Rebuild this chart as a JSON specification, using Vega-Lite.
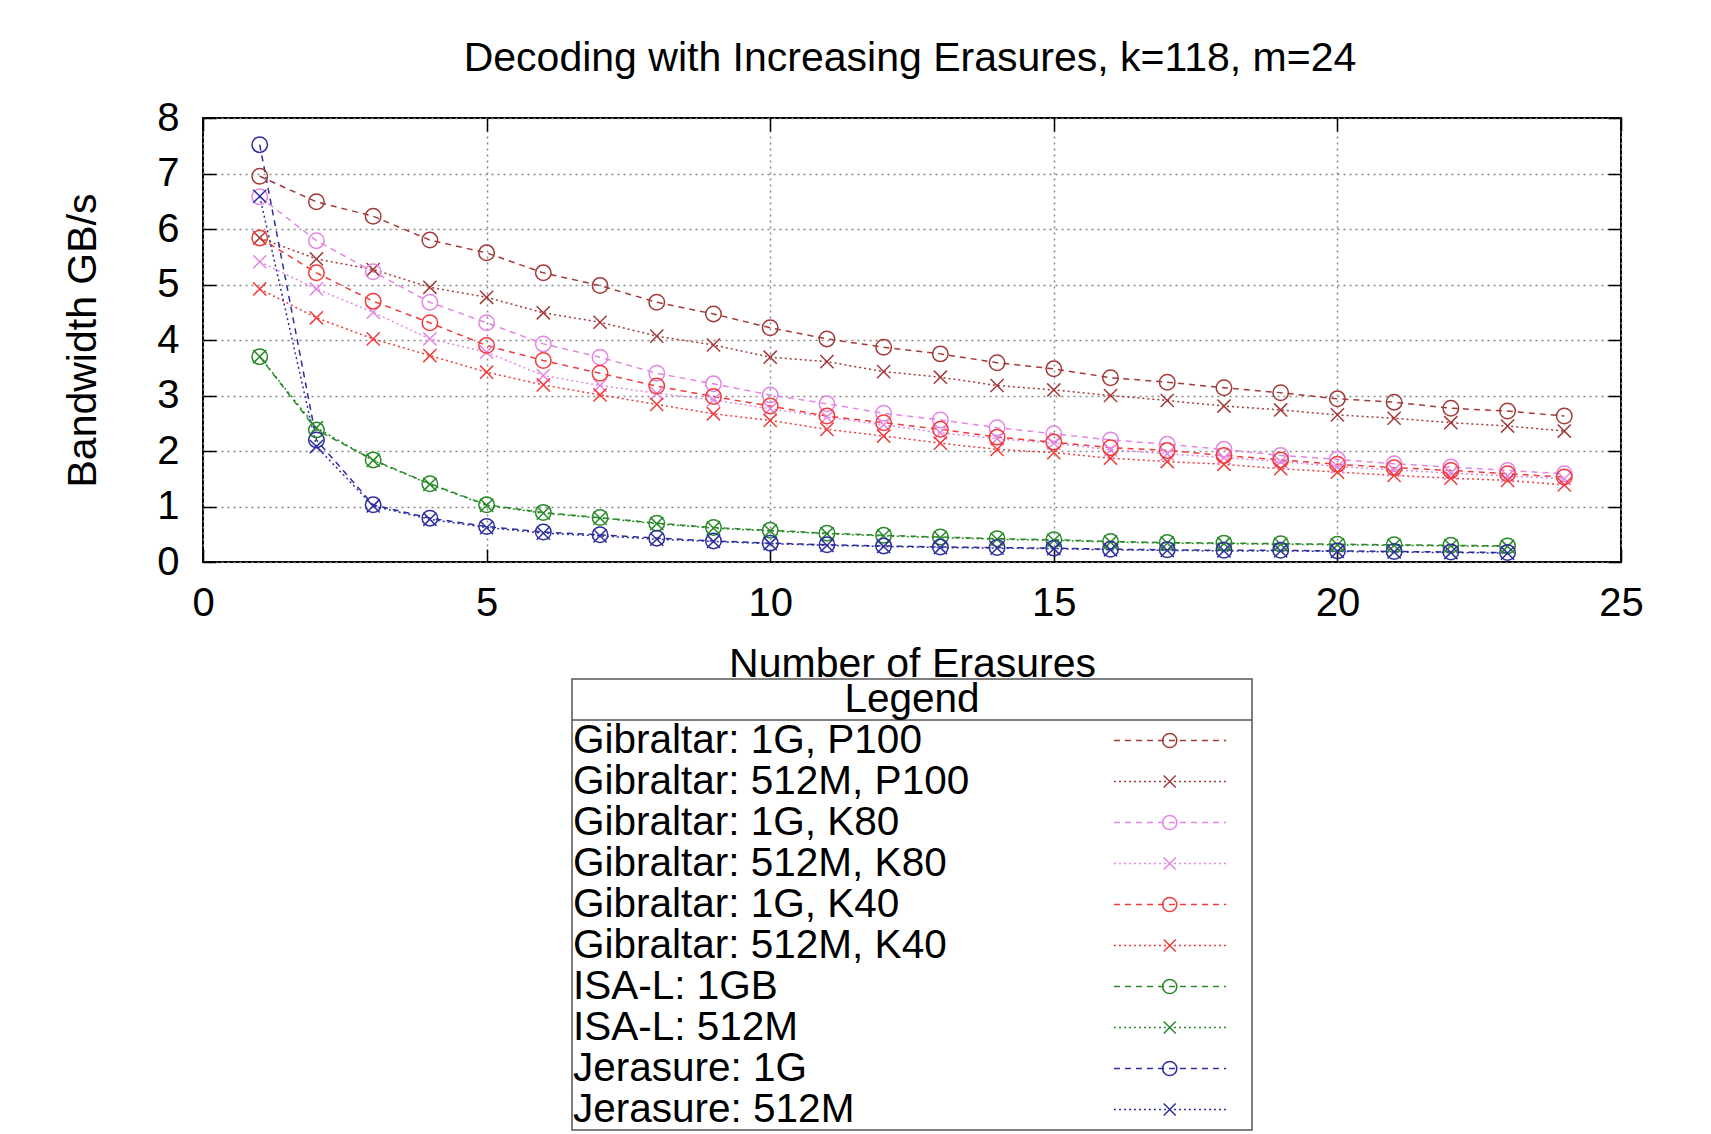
{
  "$schema": "https://vega.github.io/schema/vega-lite/v6.json",
  "background": "white",
  "padding": {"left": 61, "top": 38, "right": 10, "bottom": 0},
  "config": {"font": "Liberation Sans"},
  "title": {"text": "Decoding with Increasing Erasures, k=118, m=24", "fontSize": 41, "fontWeight": "normal", "font": "Liberation Sans", "color": "black", "anchor": "middle", "offset": 17, "dx": 57},
  "bounds": "flush",
  "spacing": 117,
  "center": true,
  "datasets": {
    "legend": [
      {"s": "Gibraltar: 1G, P100"}, {"s": "Gibraltar: 512M, P100"}, {"s": "Gibraltar: 1G, K80"}, {"s": "Gibraltar: 512M, K80"}, {"s": "Gibraltar: 1G, K40"},
      {"s": "Gibraltar: 512M, K40"}, {"s": "ISA-L: 1GB"}, {"s": "ISA-L: 512M"}, {"s": "Jerasure: 1G"}, {"s": "Jerasure: 512M"}
    ],
    "main": [
      {"s":"Gibraltar: 1G, P100","x":1,"y":6.95},{"s":"Gibraltar: 1G, P100","x":2,"y":6.49},{"s":"Gibraltar: 1G, P100","x":3,"y":6.23},{"s":"Gibraltar: 1G, P100","x":4,"y":5.80},{"s":"Gibraltar: 1G, P100","x":5,"y":5.57},{"s":"Gibraltar: 1G, P100","x":6,"y":5.21},{"s":"Gibraltar: 1G, P100","x":7,"y":4.98},{"s":"Gibraltar: 1G, P100","x":8,"y":4.68},{"s":"Gibraltar: 1G, P100","x":9,"y":4.47},{"s":"Gibraltar: 1G, P100","x":10,"y":4.22},{"s":"Gibraltar: 1G, P100","x":11,"y":4.02},{"s":"Gibraltar: 1G, P100","x":12,"y":3.87},{"s":"Gibraltar: 1G, P100","x":13,"y":3.75},{"s":"Gibraltar: 1G, P100","x":14,"y":3.59},{"s":"Gibraltar: 1G, P100","x":15,"y":3.48},{"s":"Gibraltar: 1G, P100","x":16,"y":3.32},{"s":"Gibraltar: 1G, P100","x":17,"y":3.24},{"s":"Gibraltar: 1G, P100","x":18,"y":3.14},{"s":"Gibraltar: 1G, P100","x":19,"y":3.05},{"s":"Gibraltar: 1G, P100","x":20,"y":2.94},{"s":"Gibraltar: 1G, P100","x":21,"y":2.88},{"s":"Gibraltar: 1G, P100","x":22,"y":2.77},{"s":"Gibraltar: 1G, P100","x":23,"y":2.72},{"s":"Gibraltar: 1G, P100","x":24,"y":2.63},
      {"s":"Gibraltar: 512M, P100","x":1,"y":5.84},{"s":"Gibraltar: 512M, P100","x":2,"y":5.46},{"s":"Gibraltar: 512M, P100","x":3,"y":5.27},{"s":"Gibraltar: 512M, P100","x":4,"y":4.95},{"s":"Gibraltar: 512M, P100","x":5,"y":4.77},{"s":"Gibraltar: 512M, P100","x":6,"y":4.49},{"s":"Gibraltar: 512M, P100","x":7,"y":4.32},{"s":"Gibraltar: 512M, P100","x":8,"y":4.07},{"s":"Gibraltar: 512M, P100","x":9,"y":3.91},{"s":"Gibraltar: 512M, P100","x":10,"y":3.69},{"s":"Gibraltar: 512M, P100","x":11,"y":3.61},{"s":"Gibraltar: 512M, P100","x":12,"y":3.43},{"s":"Gibraltar: 512M, P100","x":13,"y":3.33},{"s":"Gibraltar: 512M, P100","x":14,"y":3.18},{"s":"Gibraltar: 512M, P100","x":15,"y":3.10},{"s":"Gibraltar: 512M, P100","x":16,"y":3.00},{"s":"Gibraltar: 512M, P100","x":17,"y":2.91},{"s":"Gibraltar: 512M, P100","x":18,"y":2.81},{"s":"Gibraltar: 512M, P100","x":19,"y":2.74},{"s":"Gibraltar: 512M, P100","x":20,"y":2.65},{"s":"Gibraltar: 512M, P100","x":21,"y":2.59},{"s":"Gibraltar: 512M, P100","x":22,"y":2.51},{"s":"Gibraltar: 512M, P100","x":23,"y":2.45},{"s":"Gibraltar: 512M, P100","x":24,"y":2.36},
      {"s":"Gibraltar: 1G, K80","x":1,"y":6.58},{"s":"Gibraltar: 1G, K80","x":2,"y":5.79},{"s":"Gibraltar: 1G, K80","x":3,"y":5.23},{"s":"Gibraltar: 1G, K80","x":4,"y":4.68},{"s":"Gibraltar: 1G, K80","x":5,"y":4.31},{"s":"Gibraltar: 1G, K80","x":6,"y":3.93},{"s":"Gibraltar: 1G, K80","x":7,"y":3.69},{"s":"Gibraltar: 1G, K80","x":8,"y":3.40},{"s":"Gibraltar: 1G, K80","x":9,"y":3.21},{"s":"Gibraltar: 1G, K80","x":10,"y":3.01},{"s":"Gibraltar: 1G, K80","x":11,"y":2.85},{"s":"Gibraltar: 1G, K80","x":12,"y":2.68},{"s":"Gibraltar: 1G, K80","x":13,"y":2.56},{"s":"Gibraltar: 1G, K80","x":14,"y":2.42},{"s":"Gibraltar: 1G, K80","x":15,"y":2.31},{"s":"Gibraltar: 1G, K80","x":16,"y":2.20},{"s":"Gibraltar: 1G, K80","x":17,"y":2.12},{"s":"Gibraltar: 1G, K80","x":18,"y":2.03},{"s":"Gibraltar: 1G, K80","x":19,"y":1.92},{"s":"Gibraltar: 1G, K80","x":20,"y":1.85},{"s":"Gibraltar: 1G, K80","x":21,"y":1.77},{"s":"Gibraltar: 1G, K80","x":22,"y":1.71},{"s":"Gibraltar: 1G, K80","x":23,"y":1.65},{"s":"Gibraltar: 1G, K80","x":24,"y":1.59},
      {"s":"Gibraltar: 512M, K80","x":1,"y":5.41},{"s":"Gibraltar: 512M, K80","x":2,"y":4.92},{"s":"Gibraltar: 512M, K80","x":3,"y":4.50},{"s":"Gibraltar: 512M, K80","x":4,"y":4.02},{"s":"Gibraltar: 512M, K80","x":5,"y":3.78},{"s":"Gibraltar: 512M, K80","x":6,"y":3.36},{"s":"Gibraltar: 512M, K80","x":7,"y":3.18},{"s":"Gibraltar: 512M, K80","x":8,"y":3.04},{"s":"Gibraltar: 512M, K80","x":9,"y":2.92},{"s":"Gibraltar: 512M, K80","x":10,"y":2.76},{"s":"Gibraltar: 512M, K80","x":11,"y":2.61},{"s":"Gibraltar: 512M, K80","x":12,"y":2.47},{"s":"Gibraltar: 512M, K80","x":13,"y":2.33},{"s":"Gibraltar: 512M, K80","x":14,"y":2.22},{"s":"Gibraltar: 512M, K80","x":15,"y":2.14},{"s":"Gibraltar: 512M, K80","x":16,"y":2.02},{"s":"Gibraltar: 512M, K80","x":17,"y":1.95},{"s":"Gibraltar: 512M, K80","x":18,"y":1.88},{"s":"Gibraltar: 512M, K80","x":19,"y":1.81},{"s":"Gibraltar: 512M, K80","x":20,"y":1.72},{"s":"Gibraltar: 512M, K80","x":21,"y":1.66},{"s":"Gibraltar: 512M, K80","x":22,"y":1.60},{"s":"Gibraltar: 512M, K80","x":23,"y":1.55},{"s":"Gibraltar: 512M, K80","x":24,"y":1.50},
      {"s":"Gibraltar: 1G, K40","x":1,"y":5.84},{"s":"Gibraltar: 1G, K40","x":2,"y":5.21},{"s":"Gibraltar: 1G, K40","x":3,"y":4.70},{"s":"Gibraltar: 1G, K40","x":4,"y":4.31},{"s":"Gibraltar: 1G, K40","x":5,"y":3.90},{"s":"Gibraltar: 1G, K40","x":6,"y":3.63},{"s":"Gibraltar: 1G, K40","x":7,"y":3.40},{"s":"Gibraltar: 1G, K40","x":8,"y":3.17},{"s":"Gibraltar: 1G, K40","x":9,"y":2.98},{"s":"Gibraltar: 1G, K40","x":10,"y":2.81},{"s":"Gibraltar: 1G, K40","x":11,"y":2.63},{"s":"Gibraltar: 1G, K40","x":12,"y":2.51},{"s":"Gibraltar: 1G, K40","x":13,"y":2.39},{"s":"Gibraltar: 1G, K40","x":14,"y":2.25},{"s":"Gibraltar: 1G, K40","x":15,"y":2.16},{"s":"Gibraltar: 1G, K40","x":16,"y":2.06},{"s":"Gibraltar: 1G, K40","x":17,"y":2.01},{"s":"Gibraltar: 1G, K40","x":18,"y":1.92},{"s":"Gibraltar: 1G, K40","x":19,"y":1.84},{"s":"Gibraltar: 1G, K40","x":20,"y":1.76},{"s":"Gibraltar: 1G, K40","x":21,"y":1.70},{"s":"Gibraltar: 1G, K40","x":22,"y":1.65},{"s":"Gibraltar: 1G, K40","x":23,"y":1.59},{"s":"Gibraltar: 1G, K40","x":24,"y":1.53},
      {"s":"Gibraltar: 512M, K40","x":1,"y":4.92},{"s":"Gibraltar: 512M, K40","x":2,"y":4.40},{"s":"Gibraltar: 512M, K40","x":3,"y":4.02},{"s":"Gibraltar: 512M, K40","x":4,"y":3.72},{"s":"Gibraltar: 512M, K40","x":5,"y":3.42},{"s":"Gibraltar: 512M, K40","x":6,"y":3.19},{"s":"Gibraltar: 512M, K40","x":7,"y":3.01},{"s":"Gibraltar: 512M, K40","x":8,"y":2.84},{"s":"Gibraltar: 512M, K40","x":9,"y":2.67},{"s":"Gibraltar: 512M, K40","x":10,"y":2.55},{"s":"Gibraltar: 512M, K40","x":11,"y":2.39},{"s":"Gibraltar: 512M, K40","x":12,"y":2.27},{"s":"Gibraltar: 512M, K40","x":13,"y":2.14},{"s":"Gibraltar: 512M, K40","x":14,"y":2.03},{"s":"Gibraltar: 512M, K40","x":15,"y":1.97},{"s":"Gibraltar: 512M, K40","x":16,"y":1.87},{"s":"Gibraltar: 512M, K40","x":17,"y":1.81},{"s":"Gibraltar: 512M, K40","x":18,"y":1.76},{"s":"Gibraltar: 512M, K40","x":19,"y":1.68},{"s":"Gibraltar: 512M, K40","x":20,"y":1.62},{"s":"Gibraltar: 512M, K40","x":21,"y":1.56},{"s":"Gibraltar: 512M, K40","x":22,"y":1.51},{"s":"Gibraltar: 512M, K40","x":23,"y":1.47},{"s":"Gibraltar: 512M, K40","x":24,"y":1.39},
      {"s":"ISA-L: 1GB","x":1,"y":3.70},{"s":"ISA-L: 1GB","x":2,"y":2.38},{"s":"ISA-L: 1GB","x":3,"y":1.84},{"s":"ISA-L: 1GB","x":4,"y":1.41},{"s":"ISA-L: 1GB","x":5,"y":1.03},{"s":"ISA-L: 1GB","x":6,"y":0.89},{"s":"ISA-L: 1GB","x":7,"y":0.80},{"s":"ISA-L: 1GB","x":8,"y":0.70},{"s":"ISA-L: 1GB","x":9,"y":0.62},{"s":"ISA-L: 1GB","x":10,"y":0.57},{"s":"ISA-L: 1GB","x":11,"y":0.52},{"s":"ISA-L: 1GB","x":12,"y":0.48},{"s":"ISA-L: 1GB","x":13,"y":0.45},{"s":"ISA-L: 1GB","x":14,"y":0.42},{"s":"ISA-L: 1GB","x":15,"y":0.40},{"s":"ISA-L: 1GB","x":16,"y":0.37},{"s":"ISA-L: 1GB","x":17,"y":0.35},{"s":"ISA-L: 1GB","x":18,"y":0.34},{"s":"ISA-L: 1GB","x":19,"y":0.33},{"s":"ISA-L: 1GB","x":20,"y":0.32},{"s":"ISA-L: 1GB","x":21,"y":0.31},{"s":"ISA-L: 1GB","x":22,"y":0.30},{"s":"ISA-L: 1GB","x":23,"y":0.29},
      {"s":"ISA-L: 512M","x":1,"y":3.70},{"s":"ISA-L: 512M","x":2,"y":2.42},{"s":"ISA-L: 512M","x":3,"y":1.83},{"s":"ISA-L: 512M","x":4,"y":1.40},{"s":"ISA-L: 512M","x":5,"y":1.02},{"s":"ISA-L: 512M","x":6,"y":0.88},{"s":"ISA-L: 512M","x":7,"y":0.79},{"s":"ISA-L: 512M","x":8,"y":0.69},{"s":"ISA-L: 512M","x":9,"y":0.61},{"s":"ISA-L: 512M","x":10,"y":0.56},{"s":"ISA-L: 512M","x":11,"y":0.51},{"s":"ISA-L: 512M","x":12,"y":0.47},{"s":"ISA-L: 512M","x":13,"y":0.44},{"s":"ISA-L: 512M","x":14,"y":0.41},{"s":"ISA-L: 512M","x":15,"y":0.39},{"s":"ISA-L: 512M","x":16,"y":0.36},{"s":"ISA-L: 512M","x":17,"y":0.34},{"s":"ISA-L: 512M","x":18,"y":0.33},{"s":"ISA-L: 512M","x":19,"y":0.32},{"s":"ISA-L: 512M","x":20,"y":0.31},{"s":"ISA-L: 512M","x":21,"y":0.30},{"s":"ISA-L: 512M","x":22,"y":0.29},{"s":"ISA-L: 512M","x":23,"y":0.28},
      {"s":"Jerasure: 1G","x":1,"y":7.52},{"s":"Jerasure: 1G","x":2,"y":2.20},{"s":"Jerasure: 1G","x":3,"y":1.03},{"s":"Jerasure: 1G","x":4,"y":0.79},{"s":"Jerasure: 1G","x":5,"y":0.64},{"s":"Jerasure: 1G","x":6,"y":0.54},{"s":"Jerasure: 1G","x":7,"y":0.49},{"s":"Jerasure: 1G","x":8,"y":0.43},{"s":"Jerasure: 1G","x":9,"y":0.38},{"s":"Jerasure: 1G","x":10,"y":0.34},{"s":"Jerasure: 1G","x":11,"y":0.31},{"s":"Jerasure: 1G","x":12,"y":0.29},{"s":"Jerasure: 1G","x":13,"y":0.27},{"s":"Jerasure: 1G","x":14,"y":0.26},{"s":"Jerasure: 1G","x":15,"y":0.25},{"s":"Jerasure: 1G","x":16,"y":0.23},{"s":"Jerasure: 1G","x":17,"y":0.22},{"s":"Jerasure: 1G","x":18,"y":0.21},{"s":"Jerasure: 1G","x":19,"y":0.21},{"s":"Jerasure: 1G","x":20,"y":0.20},{"s":"Jerasure: 1G","x":21,"y":0.19},{"s":"Jerasure: 1G","x":22,"y":0.18},{"s":"Jerasure: 1G","x":23,"y":0.17},
      {"s":"Jerasure: 512M","x":1,"y":6.59},{"s":"Jerasure: 512M","x":2,"y":2.08},{"s":"Jerasure: 512M","x":3,"y":1.01},{"s":"Jerasure: 512M","x":4,"y":0.77},{"s":"Jerasure: 512M","x":5,"y":0.62},{"s":"Jerasure: 512M","x":6,"y":0.52},{"s":"Jerasure: 512M","x":7,"y":0.47},{"s":"Jerasure: 512M","x":8,"y":0.41},{"s":"Jerasure: 512M","x":9,"y":0.37},{"s":"Jerasure: 512M","x":10,"y":0.33},{"s":"Jerasure: 512M","x":11,"y":0.30},{"s":"Jerasure: 512M","x":12,"y":0.28},{"s":"Jerasure: 512M","x":13,"y":0.26},{"s":"Jerasure: 512M","x":14,"y":0.25},{"s":"Jerasure: 512M","x":15,"y":0.24},{"s":"Jerasure: 512M","x":16,"y":0.22},{"s":"Jerasure: 512M","x":17,"y":0.21},{"s":"Jerasure: 512M","x":18,"y":0.20},{"s":"Jerasure: 512M","x":19,"y":0.20},{"s":"Jerasure: 512M","x":20,"y":0.19},{"s":"Jerasure: 512M","x":21,"y":0.18},{"s":"Jerasure: 512M","x":22,"y":0.17},{"s":"Jerasure: 512M","x":23,"y":0.16}
    ]
  },
  "vconcat": [
    {
      "width": 1418,
      "height": 444,
      "data": {"name": "main"},
      "view": {"stroke": "black", "strokeWidth": 2},
      "layer": [
        {
          "mark": {"type": "line", "strokeWidth": 1.5},
          "encoding": {
            "x": {"field": "x", "type": "quantitative", "scale": {"domain": [0, 25], "nice": false, "zero": false},
              "axis": {"values": [0, 5, 10, 15, 20, 25], "grid": true, "gridDash": [2, 4], "gridColor": "#888888", "gridWidth": 1.5, "domain": false, "ticks": true, "tickSize": -13, "tickColor": "black", "tickWidth": 1.5, "labelFontSize": 40, "labelColor": "black", "labelPadding": 34, "labelFlush": false, "labelOverlap": false, "title": "Number of Erasures", "titleFontSize": 41, "titleFontWeight": "normal", "titleColor": "black", "titleY": 114, "titleBaseline": "alphabetic"}},
            "y": {"field": "y", "type": "quantitative", "scale": {"domain": [0, 8], "nice": false},
              "axis": {"values": [0, 1, 2, 3, 4, 5, 6, 7, 8], "grid": true, "gridDash": [2, 4], "gridColor": "#888888", "gridWidth": 1.5, "domain": false, "ticks": true, "tickSize": -13, "tickColor": "black", "tickWidth": 1.5, "labelFontSize": 40, "labelColor": "black", "labelPadding": 37, "labelFlush": false, "labelOverlap": false, "title": "Bandwidth GB/s", "titleFontSize": 41, "titleFontWeight": "normal", "titleColor": "black", "titlePadding": 52}},
            "color": {"field": "s", "type": "nominal", "legend": null,
              "scale": {"domain": ["Gibraltar: 1G, P100", "Gibraltar: 512M, P100", "Gibraltar: 1G, K80", "Gibraltar: 512M, K80", "Gibraltar: 1G, K40", "Gibraltar: 512M, K40", "ISA-L: 1GB", "ISA-L: 512M", "Jerasure: 1G", "Jerasure: 512M"],
                "range": ["#a33a3a", "#a33a3a", "#e386e3", "#e386e3", "#f03c3c", "#f03c3c", "#2a8a2a", "#2a8a2a", "#2e2e9e", "#2e2e9e"]}},
            "strokeDash": {"field": "s", "type": "nominal", "legend": null,
              "scale": {"domain": ["Gibraltar: 1G, P100", "Gibraltar: 512M, P100", "Gibraltar: 1G, K80", "Gibraltar: 512M, K80", "Gibraltar: 1G, K40", "Gibraltar: 512M, K40", "ISA-L: 1GB", "ISA-L: 512M", "Jerasure: 1G", "Jerasure: 512M"],
                "range": [[6, 5], [2, 3], [6, 5], [2, 3], [6, 5], [2, 3], [6, 5], [2, 3], [6, 5], [2, 3]]}}
          }
        },
        {
          "mark": {"type": "point", "filled": false, "strokeWidth": 1.5, "size": 240, "opacity": 1},
          "encoding": {
            "x": {"field": "x", "type": "quantitative", "axis": null},
            "y": {"field": "y", "type": "quantitative", "axis": null},
            "color": {"field": "s", "type": "nominal", "legend": null},
            "shape": {"field": "s", "type": "nominal", "legend": null,
              "scale": {"domain": ["Gibraltar: 1G, P100", "Gibraltar: 512M, P100", "Gibraltar: 1G, K80", "Gibraltar: 512M, K80", "Gibraltar: 1G, K40", "Gibraltar: 512M, K40", "ISA-L: 1GB", "ISA-L: 512M", "Jerasure: 1G", "Jerasure: 512M"],
                "range": ["circle", "M-0.85,-0.85L0.85,0.85M-0.85,0.85L0.85,-0.85", "circle", "M-0.85,-0.85L0.85,0.85M-0.85,0.85L0.85,-0.85", "circle", "M-0.85,-0.85L0.85,0.85M-0.85,0.85L0.85,-0.85", "circle", "M-0.85,-0.85L0.85,0.85M-0.85,0.85L0.85,-0.85", "circle", "M-0.85,-0.85L0.85,0.85M-0.85,0.85L0.85,-0.85"]}}
          }
        },
        {
          "mark": {"type": "point", "opacity": 0},
          "encoding": {
            "x": {"field": "x", "type": "quantitative", "axis": {"orient": "top", "values": [0, 5, 10, 15, 20, 25], "labels": false, "domain": false, "grid": false, "tickSize": -13, "tickColor": "black", "tickWidth": 1.5, "title": null}},
            "y": {"field": "y", "type": "quantitative", "axis": {"orient": "right", "values": [0, 1, 2, 3, 4, 5, 6, 7, 8], "labels": false, "domain": false, "grid": false, "tickSize": -13, "tickColor": "black", "tickWidth": 1.5, "title": null}}
          }
        }
      ],
      "resolve": {"axis": {"x": "independent", "y": "independent"}}
    },
    {
      "width": 680,
      "height": 451,
      "view": {"stroke": "#555555", "strokeWidth": 1.5},
      "layer": [
        {
          "data": {"values": [{"h": "Legend"}]},
          "mark": {"type": "rule", "stroke": "#555555", "strokeWidth": 1.5},
          "encoding": {
            "y": {"field": "h", "type": "nominal", "bandPosition": 1, "axis": null,
              "scale": {"type": "band", "paddingInner": 0, "paddingOuter": 0, "domain": ["Legend", "Gibraltar: 1G, P100", "Gibraltar: 512M, P100", "Gibraltar: 1G, K80", "Gibraltar: 512M, K80", "Gibraltar: 1G, K40", "Gibraltar: 512M, K40", "ISA-L: 1GB", "ISA-L: 512M", "Jerasure: 1G", "Jerasure: 512M"]}}
          }
        },
        {
          "data": {"values": [{"h": "Legend"}]},
          "mark": {"type": "text", "fontSize": 40.5, "color": "black", "align": "center", "baseline": "middle"},
          "encoding": {
            "x": {"datum": 0.5, "type": "quantitative", "scale": {"domain": [0, 1]}, "axis": null},
            "y": {"field": "h", "type": "nominal", "axis": null},
            "text": {"field": "h"}
          }
        },
        {
          "data": {"name": "legend"},
          "mark": {"type": "text", "fontSize": 40.5, "color": "black", "align": "left", "baseline": "middle", "dx": 1},
          "encoding": {
            "x": {"datum": 0, "type": "quantitative", "axis": null},
            "y": {"field": "s", "type": "nominal", "axis": null},
            "text": {"field": "s"}
          }
        },
        {
          "data": {"name": "legend"},
          "mark": {"type": "rule", "strokeWidth": 1.5},
          "encoding": {
            "x": {"datum": 0.797, "type": "quantitative", "axis": null},
            "x2": {"datum": 0.962},
            "y": {"field": "s", "type": "nominal", "axis": null},
            "color": {"field": "s", "type": "nominal", "legend": null},
            "strokeDash": {"field": "s", "type": "nominal", "legend": null}
          }
        },
        {
          "data": {"name": "legend"},
          "mark": {"type": "point", "filled": false, "strokeWidth": 1.5, "size": 200, "opacity": 1},
          "encoding": {
            "x": {"datum": 0.879, "type": "quantitative", "axis": null},
            "y": {"field": "s", "type": "nominal", "axis": null},
            "color": {"field": "s", "type": "nominal", "legend": null},
            "shape": {"field": "s", "type": "nominal", "legend": null}
          }
        }
      ]
    }
  ]
}
